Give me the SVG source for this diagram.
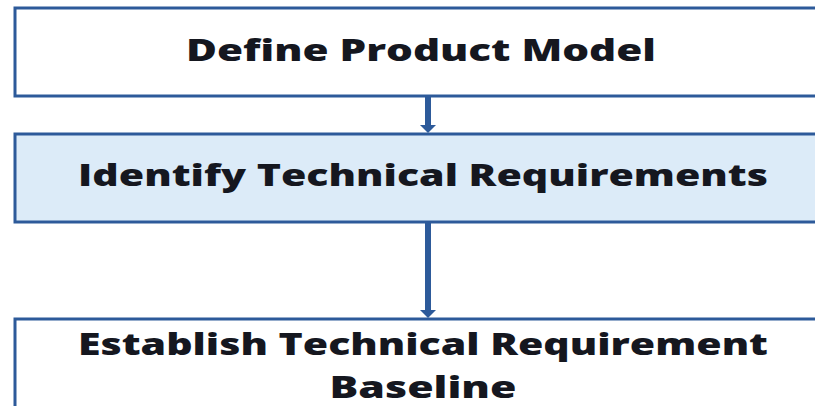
<svg xmlns="http://www.w3.org/2000/svg" width="815" height="406" viewBox="0 0 815 406">
  <style>
    .box { stroke: #2d5a9a; stroke-width: 3; }
    .plain { fill: #ffffff; }
    .tint { fill: #dcebf8; }
    .label { font-family: "Open Sans", "Liberation Sans", sans-serif; font-weight: 800; font-size: 30px; fill: #15171f; text-anchor: middle; }
    .link { stroke: #2d5a9a; stroke-width: 6; fill: none; }
  </style>
  <defs>
    <!-- short, wide head that starts where the shaft ends -->
    <marker id="head" viewBox="0 0 8 16" refX="0" refY="8" markerWidth="1.34" markerHeight="2.67" markerUnits="strokeWidth" orient="auto">
      <path d="M0,0 L8,8 L0,16 z" fill="#2d5a9a"/>
    </marker>
  </defs>
  <rect width="815" height="406" fill="#ffffff"/>

  <g id="connectors">
    <line class="link" x1="428" y1="97" x2="428" y2="125" marker-end="url(#head)"/>
    <line class="link" x1="428" y1="223" x2="428" y2="310" marker-end="url(#head)"/>
  </g>

  <g id="define-product-model">
    <rect class="box plain" x="15" y="8" width="820" height="88"/>
    <text class="label" x="421" y="61" textLength="470" lengthAdjust="spacingAndGlyphs">Define Product Model</text>
  </g>

  <g id="identify-technical-requirements">
    <rect class="box tint" x="15" y="134" width="820" height="88"/>
    <text class="label" x="423" y="186" textLength="690" lengthAdjust="spacingAndGlyphs">Identify Technical Requirements</text>
  </g>

  <g id="establish-baseline">
    <rect class="box plain" x="15" y="319" width="820" height="120"/>
    <text class="label" x="423" y="355" textLength="690" lengthAdjust="spacingAndGlyphs">Establish Technical Requirement</text>
    <text class="label" x="423" y="398" textLength="187" lengthAdjust="spacingAndGlyphs">Baseline</text>
  </g>
</svg>
